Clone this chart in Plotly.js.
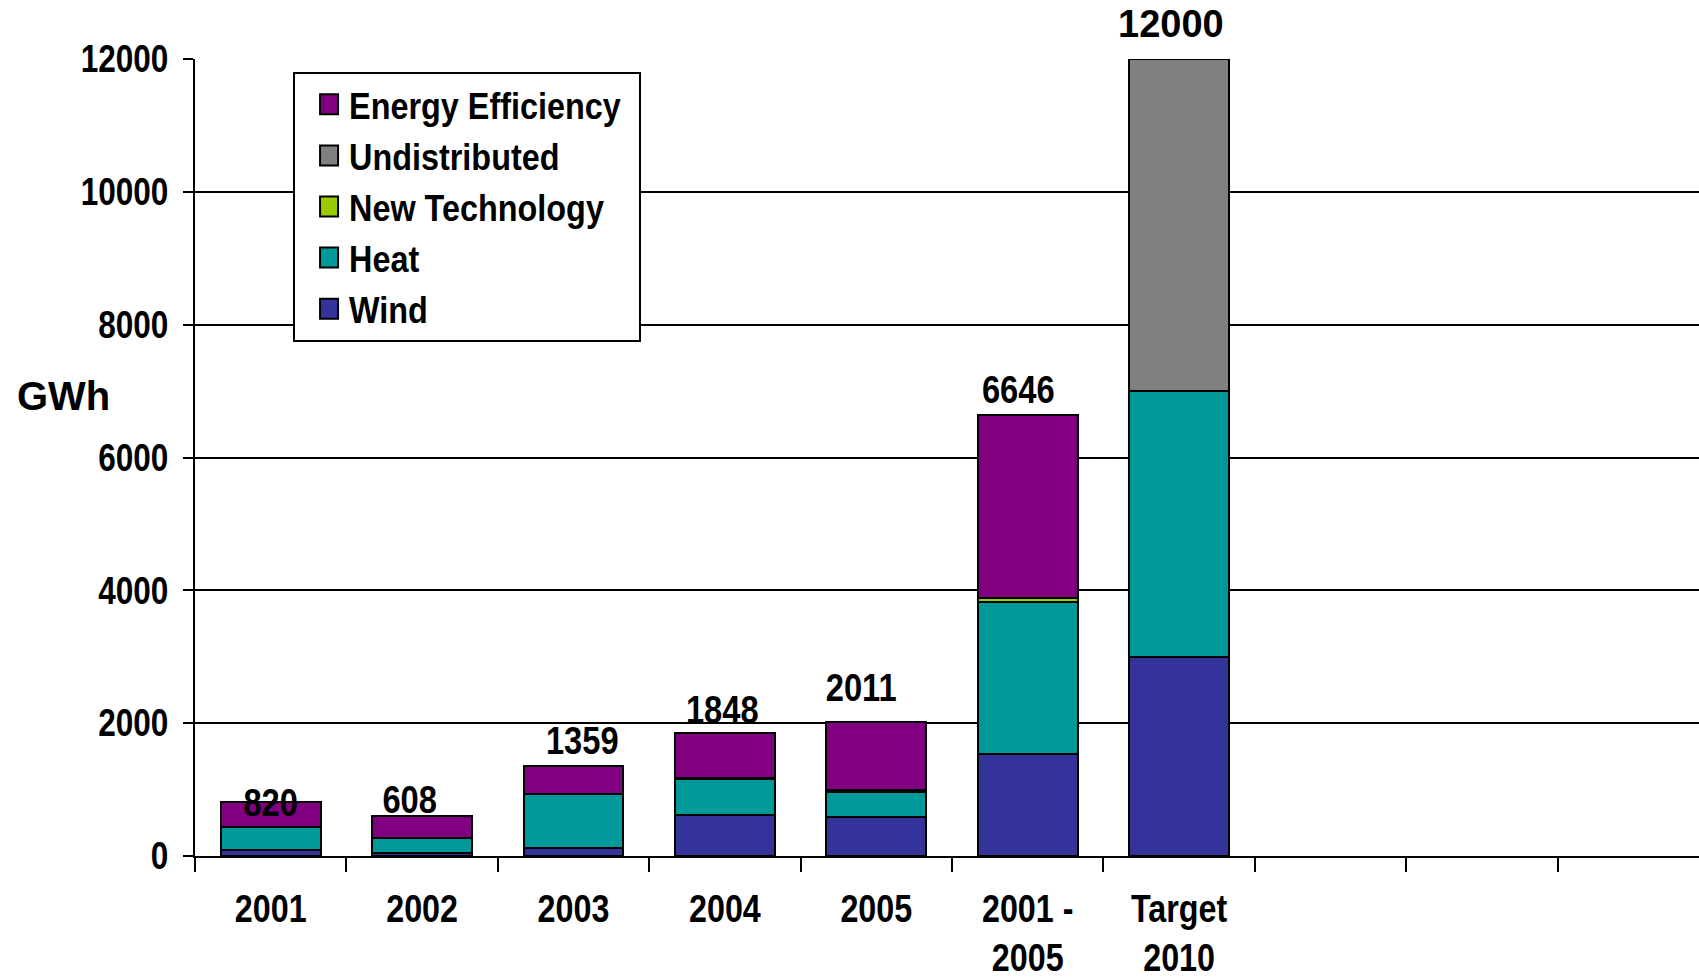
<!DOCTYPE html>
<html>
<head>
<meta charset="utf-8">
<script src="https://cdn.plot.ly/plotly-3.0.1.min.js"></script>
<style>html,body{margin:0;padding:0;background:#fff;}#chart{width:1699px;height:980px;}</style>
</head>
<body>
<div id="chart"></div>
<script>
// ---- data ----
const categories = ["2001", "2002", "2003", "2004", "2005", "2001 -<br>2005", "Target<br>2010"];
const emptySlots = [" ", "  ", "   "];   // unused category slots at the right of the axis
const wind          = [85, 50, 125, 615, 580, 1540, 3000];
const heat          = [355, 220, 805, 540, 390, 2280, 4000];
const newTechnology = [0, 0, 5, 20, 20, 60, 0];
const undistributed = [0, 0, 0, 0, 0, 0, 5000];
const energyEff     = [380, 338, 424, 673, 1021, 2766, 0];
const totals        = [820, 608, 1359, 1848, 2011, 6646, 12000];
const yTicks        = [0, 2000, 4000, 6000, 8000, 10000, 12000];

// ---- styling ----
const FONT = '"Liberation Sans", Arial, sans-serif';
const outline = {color: '#000', width: 2};
function bar(name, y, color) {
  return {type: 'bar', name: name, x: categories, y: y, width: 0.66,
          marker: {color: color, line: outline}, hoverinfo: 'x+y+name'};
}
const traces = [
  bar('Wind', wind, '#333399'),
  bar('Heat', heat, '#009999'),
  bar('New Technology', newTechnology, '#99CC00'),
  bar('Undistributed', undistributed, '#808080'),
  bar('Energy Efficiency', energyEff, '#800080')
];

// small label nudges (pixels) to mimic the original placement
const nudgeX = [0, -13, 9, -2, -15, -9, -8];
const nudgeY = [-1, 16, 25, 23, 34, 25, 35];
const wideLabel = totals.length - 1;   // the target total is drawn in a wide face
const annotations = totals.map((t, i) => ({
  // category axis: position i is the i-th category of `categories`
  x: i, y: t, xref: 'x', yref: 'y', text: String(t), showarrow: false,
  xanchor: 'center', yanchor: 'middle', xshift: nudgeX[i], yshift: nudgeY[i],
  font: {family: FONT, size: 38, color: '#000', weight: 700}
}));
annotations.push({
  x: -0.12, y: 0.577, xref: 'paper', yref: 'paper', text: 'GWh', showarrow: false,
  xanchor: 'left', yanchor: 'middle',
  font: {family: FONT, size: 40, color: '#000', weight: 700}
});

const layout = {
  width: 1699, height: 980,
  margin: {l: 195, r: 0, t: 59, b: 124, pad: 0},
  paper_bgcolor: '#fff', plot_bgcolor: '#fff',
  barmode: 'stack',
  showlegend: true,
  legend: {
    x: 0.0652, y: 0.984, xanchor: 'left', yanchor: 'top',
    bgcolor: '#fff', bordercolor: '#000', borderwidth: 2,
    traceorder: 'reversed',
    font: {family: FONT, size: 37, color: '#000', weight: 700},
    indentation: 14
  },
  xaxis: {
    type: 'category',
    categoryorder: 'array',
    categoryarray: categories.concat(emptySlots),
    range: [-0.5, 9.434],
    tickson: 'boundaries',
    ticks: 'outside', ticklen: 14, tickwidth: 2, tickcolor: '#000',
    showline: true, linecolor: '#000', linewidth: 2,
    showgrid: false, zeroline: false,
    ticklabelstandoff: 18,
    tickfont: {family: FONT, size: 38, color: '#000', weight: 700},
    fixedrange: true
  },
  yaxis: {
    range: [0, 12000],
    tickvals: yTicks, ticktext: yTicks.map(String),
    ticks: 'outside', ticklen: 10, tickwidth: 2, tickcolor: '#000',
    showline: true, linecolor: '#000', linewidth: 2,
    showgrid: true, gridcolor: '#000', gridwidth: 2,
    zeroline: false,
    ticklabelstandoff: 7,
    tickfont: {family: FONT, size: 38, color: '#000', weight: 700},
    fixedrange: true
  },
  annotations: annotations
};

// The original uses a narrow (condensed) bold face; no condensed face is installed,
// so the drawn text is compressed horizontally (it stays real text).
function squeeze(el, f) {
  const lines = el.querySelectorAll('tspan.line');
  const parts = lines.length ? Array.from(lines) : [el];
  let saved = 0;
  parts.forEach(p => {
    const len = p.getComputedTextLength();
    if (len > 0) {
      p.setAttribute('textLength', (len * f).toFixed(2));
      p.setAttribute('lengthAdjust', 'spacingAndGlyphs');
      saved = Math.max(saved, len * (1 - f));
    }
  });
  return saved;
}

const gd = document.getElementById('chart');
Plotly.newPlot(gd, traces, layout, {displayModeBar: false, staticPlot: true}).then(() => {
  gd.querySelectorAll('.ytick text').forEach(t => squeeze(t, 0.83));
  gd.querySelectorAll('.xtick text').forEach(t => squeeze(t, 0.85));
  gd.querySelectorAll('.annotation').forEach(g => {
    const idx = +g.getAttribute('data-index');
    if (idx < totals.length && idx !== wideLabel) {
      const t = g.querySelector('.annotation-text');
      if (t) squeeze(t, 0.86);
    }
  });
  let maxSaved = 0;
  gd.querySelectorAll('.legendtext').forEach(t => { maxSaved = Math.max(maxSaved, squeeze(t, 0.875)); });
  const bg = gd.querySelector('.legend rect.bg');
  if (bg) {
    const w = parseFloat(bg.getAttribute('width'));
    bg.setAttribute('width', (w - maxSaved + 13).toFixed(1));
  }
  gd.querySelectorAll('.legendpoints path').forEach(p => {
    p.setAttribute('d', 'M9,10H-9V-10H9Z');
  });
});
</script>
</body>
</html>
